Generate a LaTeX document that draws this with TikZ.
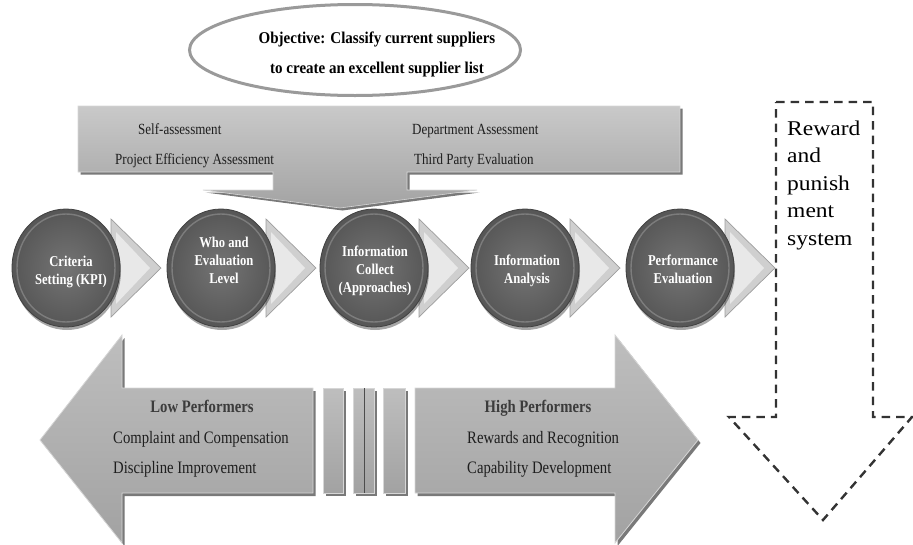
\documentclass[tikz,border=0pt]{standalone}
\usepackage{fontspec}
\setmainfont{Liberation Serif}
% narrow and wide cuts of the same serif face
\newfontfamily\narrowserif[FakeStretch=0.84]{Liberation Serif}
\newfontfamily\objserif[FakeStretch=0.91]{Liberation Serif}
\newfontfamily\wideserif[FakeStretch=1.12]{Liberation Serif}
\usetikzlibrary{calc,shapes.geometric,shadows,backgrounds}

\definecolor{ballin}{HTML}{747474}
\definecolor{ballout}{HTML}{565656}
\definecolor{ballrim}{HTML}{404040}
\definecolor{chevfill}{HTML}{CFCFCF}
\definecolor{chevlite}{HTML}{E8E8E8}
\definecolor{chevedge}{HTML}{9E9E9E}
\definecolor{bantop}{HTML}{C9C9C9}
\definecolor{banbot}{HTML}{A3A3A3}
\definecolor{banedge}{HTML}{D6D6D6}
\definecolor{arrtop}{HTML}{BEBEBE}
\definecolor{arrbot}{HTML}{A2A2A2}
\definecolor{ovalline}{HTML}{9A9A9A}
\definecolor{inktext}{HTML}{1E1E1E}
\definecolor{headtext}{HTML}{3C3C3C}
\definecolor{dashink}{HTML}{333333}

\begin{document}
\begin{tikzpicture}[x=1pt,y=-1pt,
  objective/.style={shape=ellipse,draw=ovalline,line width=3pt,fill=white,
    minimum width=331pt,minimum height=91pt,inner sep=0pt},
  objtext/.style={anchor=north,inner sep=0pt,align=center,text=black,
    font=\objserif\fontsize{16.5}{30}\selectfont\bfseries},
  banner/.style={top color=bantop,bottom color=banbot,draw=banedge,line width=.6pt,
    drop shadow={shadow xshift=2.5pt,shadow yshift=-2.5pt,fill=black!75,opacity=.7}},
  bantext/.style={anchor=base west,inner sep=0pt,text=inktext,
    font=\narrowserif\fontsize{15.5}{18}\selectfont},
  ball/.style={shape=ellipse,minimum width=108pt,minimum height=118pt,inner sep=0pt,
    inner color=ballin,outer color=ballout,draw=ballrim,line width=.8pt,
    drop shadow={shadow xshift=1pt,shadow yshift=-3pt,fill=black,opacity=.35},
    path picture={\draw[white,opacity=.22,line width=1.4pt]
      (path picture bounding box.center) ellipse [x radius=49pt,y radius=54pt];}},
  balltext/.style={anchor=north,inner sep=0pt,align=center,text=white,
    font=\narrowserif\fontsize{15}{18}\selectfont\bfseries},
  chev/.style={fill=chevfill,draw=chevedge,line width=.7pt},
  chevin/.style={fill=chevlite,draw=none},
  bigarrow/.style={top color=arrtop,bottom color=arrbot,draw=banedge,line width=.8pt,
    drop shadow={shadow xshift=2.5pt,shadow yshift=-3pt,fill=black!75,opacity=.7}},
  lowtext/.style={anchor=base west,inner sep=0pt,text=inktext,
    font=\narrowserif\fontsize{17.5}{18}\selectfont},
  lowhead/.style={anchor=base,inner sep=0pt,text=headtext,
    font=\narrowserif\fontsize{17.5}{18}\selectfont\bfseries},
  dashedarrow/.style={draw=dashink,line width=2.4pt,dash pattern=on 8.5pt off 6pt},
  sidetext/.style={anchor=north west,inner sep=0pt,align=left,text=black,
    font=\wideserif\fontsize{21}{27.5}\selectfont}
]
\useasboundingbox (0,0) rectangle (913,544);

% objective oval
\node[objective] (obj) at (355,50) {};
\node[objtext] (objt) at (377,31.6)
  {Objective: Classify current suppliers\\to create an excellent supplier list};

% assessment banner with its downward arrow
\path[banner] (78,106) -- (680,106) -- (680,172) -- (407,172) -- (407,190)
  -- (477,190) -- (340,208) -- (203,190) -- (273,190) -- (273,172)
  -- (78,172) -- cycle;
\node[bantext] (sa) at (138,134) {Self-assessment};
\node[bantext] (pe) at (115,164) {Project Efficiency Assessment};
\node[bantext] (da) at (412,134) {Department Assessment};
\node[bantext] (tp) at (414,164) {Third Party Evaluation};

% process steps
\node[ball] (b1) at (66,268) {};
\node[ball] (b2) at (221,268) {};
\node[ball] (b3) at (374,268) {};
\node[ball] (b4) at (525,268) {};
\node[ball] (b5) at (680,268) {};

\begin{pgfonlayer}{background}
  \foreach \b in {b1,b2,b3,b4,b5}{
    \path[chev] ($(\b.center)+(45,-49)$) -- ($(\b.center)+(95,0)$)
      -- ($(\b.center)+(45,49)$) -- cycle;
    \path[chevin] ($(\b.center)+(50,-36)$) -- ($(\b.center)+(84,0)$)
      -- ($(\b.center)+(50,36)$) -- cycle;
  }
\end{pgfonlayer}

\node[balltext] (t1) at (71,255.7) {Criteria\\Setting (KPI)};
\node[balltext] (t2) at (224,236.7)
  {\fontsize{15}{19}\selectfont Who and\\Evaluation\\Level};
\node[balltext] (t3) at (375,245.7)
  {\fontsize{15}{17.5}\selectfont Information\\Collect\\(Approaches)};
\node[balltext] (t4) at (527,254.7)
  {\fontsize{15}{16.5}\selectfont Information\\Analysis};
\node[balltext] (t5) at (683,254.7)
  {\fontsize{15}{16.5}\selectfont Performance\\Evaluation};

% low / high performer arrows and the separating bars
\path[bigarrow] (40,440) -- (122,335) -- (122,388) -- (313,388) -- (313,493)
  -- (122,493) -- (122,543) -- cycle;
\path[bigarrow] (698,440) -- (615,335) -- (615,388) -- (415,388) -- (415,493)
  -- (615,493) -- (615,543) -- cycle;
\path[bigarrow] (323,388) rectangle (343,493);
\path[bigarrow] (353,388) rectangle (374,493);
\draw[black!70,line width=.8pt] (364,388) -- (364,493);
\path[bigarrow] (383,388) rectangle (405,493);

\node[lowhead] (lp) at (202,412) {Low Performers};
\node[lowtext] (cc) at (113,443) {Complaint and Compensation};
\node[lowtext] (di) at (113,473) {Discipline Improvement};
\node[lowhead] (hp) at (538,412) {High Performers};
\node[lowtext] (rr) at (467,443) {Rewards and Recognition};
\node[lowtext] (cd) at (467,473) {Capability Development};

% reward and punishment system
\path[dashedarrow] (776,102) -- (873,102) -- (873,417) -- (912,417)
  -- (823,520) -- (729,417) -- (776,417) -- cycle;
\node[sidetext] (rp) at (787,120.7) {Reward\\and\\punish\\ment\\system};
\end{tikzpicture}
\end{document}
